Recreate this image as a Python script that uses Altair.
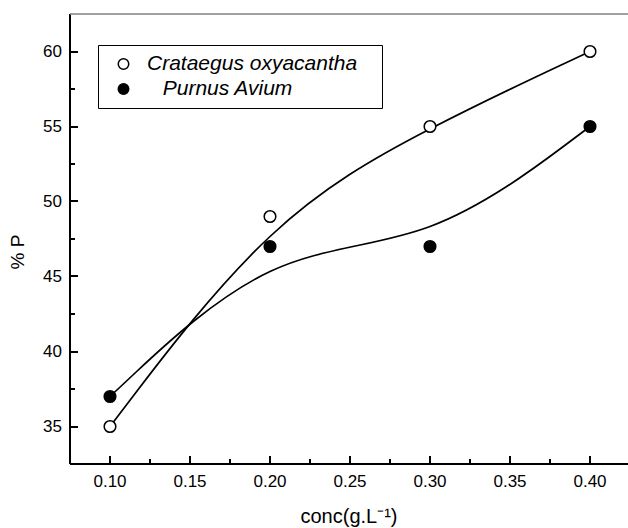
import altair as alt
import pandas as pd

conc = [0.10, 0.20, 0.30, 0.40]
crataegus = [35, 49, 55, 60]
purnus = [37, 47, 47, 55]
series_names = ["Crataegus oxyacantha", "Purnus Avium"]

x_major = [0.10, 0.15, 0.20, 0.25, 0.30, 0.35, 0.40]
x_ticks = [0.10, 0.125, 0.15, 0.175, 0.20, 0.225, 0.25, 0.275, 0.30, 0.325, 0.35, 0.375, 0.40]
y_major = [35, 40, 45, 50, 55, 60]
y_ticks = [35, 37.5, 40, 42.5, 45, 47.5, 50, 52.5, 55, 57.5, 60]

rows = []
for c, v in zip(conc, crataegus):
    rows.append({"conc": c, "P": v, "series": series_names[0]})
for c, v in zip(conc, purnus):
    rows.append({"conc": c, "P": v, "series": series_names[1]})
df = pd.DataFrame(rows)

FONT = "Liberation Sans"
W, H = 558, 450
xscale = alt.Scale(domain=[0.075, 0.42375], nice=False, zero=False)
yscale = alt.Scale(domain=[32.5, 62.5], nice=False, zero=False)

base = alt.Chart(df)

lines = base.mark_line(interpolate="basis", color="black", strokeWidth=1.7).encode(
    x=alt.X("conc:Q", scale=xscale, axis=alt.Axis(
        orient="bottom", values=x_major, format=".2f", ticks=False, grid=False,
        domainColor="black", domainWidth=2, labelFontSize=17, labelFont=FONT,
        labelColor="black", labelPadding=10, translate=0,
        title="conc(g.L\u207b\u00b9)", titleFont=FONT, titleFontSize=20,
        titleFontWeight="normal", titleColor="black", titleY=59,
        titleBaseline="alphabetic")),
    y=alt.Y("P:Q", scale=yscale, axis=alt.Axis(
        orient="left", values=y_major, ticks=False, grid=False,
        domainColor="black", domainWidth=2, labelFontSize=17, labelFont=FONT,
        labelColor="black", labelPadding=8, translate=0,
        title="% P", titleFont=FONT, titleFontSize=19, titleFontWeight="normal",
        titleColor="black", titleX=-52, titleY=238, titleAlign="center",
        titleBaseline="middle", titleAngle=270)),
    detail="series:N",
)

frame_top = alt.Chart(pd.DataFrame({"edge": ["top"]})).mark_rule(
    color="#808080", strokeWidth=1.5
).encode(x=alt.value(0), x2=alt.value(W), y=alt.value(0))

points = base.mark_point(shape="circle", filled=True, size=135, stroke="black",
                         strokeWidth=1.5, opacity=1).encode(
    x=alt.X("conc:Q", scale=xscale, axis=alt.Axis(
        orient="top", offset=-H, values=x_ticks, labels=False, domain=False,
        grid=False, title=None, tickColor="black", tickWidth=2, translate=0,
        tickSize={"condition": {"test": "round(datum.value*1000) % 50 == 0", "value": 8}, "value": 5})),
    y=alt.Y("P:Q", scale=yscale, axis=alt.Axis(
        orient="right", offset=-W, values=y_ticks, labels=False, domain=False,
        grid=False, title=None, tickColor="black", tickWidth=2, translate=0,
        tickSize={"condition": {"test": "datum.value % 5 == 0", "value": 8}, "value": 5})),
    fill=alt.Fill("series:N", scale=alt.Scale(domain=series_names, range=["white", "black"]),
                  legend=alt.Legend(
                      orient="none", legendX=28, legendY=31, title=None,
                      fillColor="white", strokeColor="black",
                      padding=8.5, rowPadding=3, symbolOffset=6.5,
                      symbolType="circle", symbolSize=110, symbolStrokeColor="black",
                      symbolStrokeWidth=1.5, labelFont=FONT, labelFontSize=21,
                      labelFontStyle="italic", labelColor="black", labelOffset=13,
                      labelLimit=400,
                      labelExpr="datum.label == 'Purnus Avium' ? '\u200b\u2002\u2005Purnus Avium' : datum.label + '\u2002\u2005\u200b'")),
)

chart = alt.layer(lines, frame_top, points).resolve_scale(x="shared", y="shared").resolve_axis(
    x="independent", y="independent"
).properties(
    width=W, height=H,
    autosize=alt.AutoSizeParams(type="none"),
    padding={"left": 70, "top": 14, "right": 0, "bottom": 64},
    background="white",
).configure_view(stroke=None)

chart.save("out.html", embed_options={"renderer": "svg", "actions": False})
